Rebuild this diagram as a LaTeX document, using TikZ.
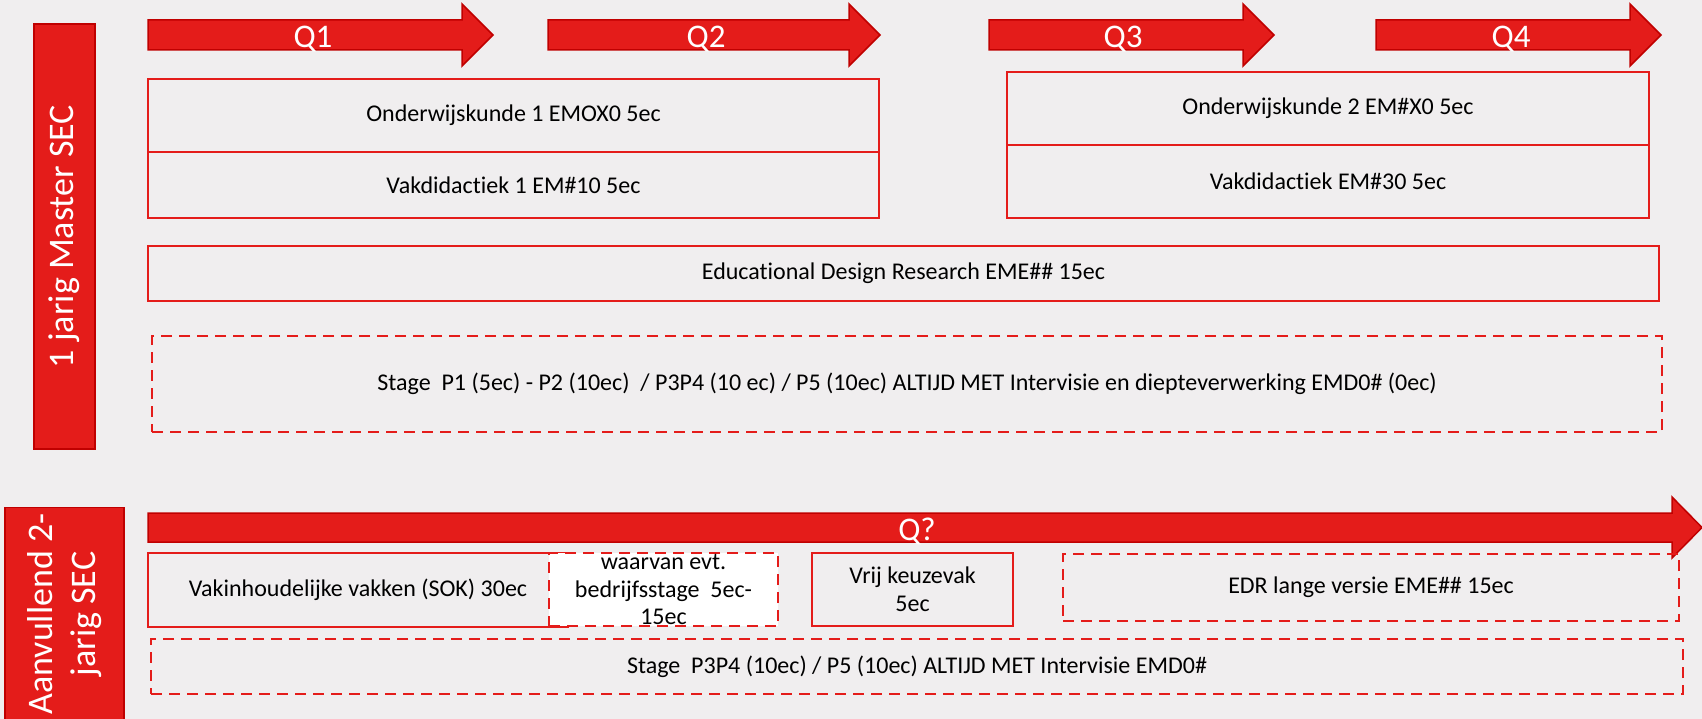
\documentclass[tikz,border=0pt]{standalone}
\usepackage{fontspec}
\setmainfont[Ligatures={NoCommon}]{Carlito}
\definecolor{sred}{RGB}{228,28,26}
\definecolor{dred}{RGB}{192,0,0}
\definecolor{bgrey}{RGB}{240,238,239}
\tikzset{
  yearbar/.style={fill=sred, draw=dred, line width=1.5pt, text=white,
    align=center, font=\fontsize{36}{43}\selectfont, inner sep=0pt},
  qarrow/.style={fill=sred, draw=dred, line width=1.5pt},
  qlabel/.style={text=white, font=\fontsize{33}{40}\selectfont, inner sep=0pt},
  course/.style={draw=sred, line width=2.5pt, align=center,
    font=\fontsize{24}{27.6}\selectfont, inner sep=0pt},
  optional/.style={course, dash pattern=on 11pt off 7pt},
}

\begin{document}
\begin{tikzpicture}[x=1pt, y=-1pt]
\fill[bgrey] (0,0) rectangle (1702,719);
\useasboundingbox (0,0) rectangle (1702,719);

% year labels
\node[yearbar, rotate=90, minimum width=425, minimum height=61] (master) at (64.5,236.5) {1 jarig Master SEC};
\node[yearbar, rotate=90, minimum width=213, minimum height=119] (extra) at (64.5,614) {Aanvullend 2-\\jarig SEC};

% quarters
\foreach \xa/\xb/\xm/\q in {148/462/313/Q1, 548/849/706/Q2, 989/1243/1123/Q3, 1376/1630/1511/Q4}{
  \filldraw[qarrow] (\xa,20) -- (\xb,20) -- (\xb,4) -- (\xb+31,35) -- (\xb,66)
    -- (\xb,50) -- (\xa,50) -- cycle;
  \node[qlabel] (\q) at (\xm,39) {\q};
}
\filldraw[qarrow] (148,513) -- (1672,513) -- (1672,497) -- (1702,527.5) -- (1672,558)
  -- (1672,542) -- (148,542) -- cycle;
\node[qlabel] (qx) at (917,531) {Q?};

% first year
\node[course, minimum width=731, minimum height=73] (ond1) at (513.5,115.5) {Onderwijskunde 1 EMOX0 5ec};
\node[course, minimum width=731, minimum height=66] (vak1) at (513.5,185) {Vakdidactiek 1 EM\#10 5ec};
\node[course, minimum width=642, minimum height=73] (ond2) at (1328,108.5) {Onderwijskunde 2 EM\#X0 5ec};
\node[course, minimum width=642, minimum height=73] (vak2) at (1328,181.5) {Vakdidactiek EM\#30 5ec};
\node[course, minimum width=1511, minimum height=55] (edr) at (903.5,273.5) {Educational Design Research EME\#\# 15ec};
\node[optional, minimum width=1510, minimum height=96] (stage1) at (907,384)
  {Stage\ \ P1 (5ec) - P2 (10ec)\ \ / P3P4 (10 ec) / P5 (10ec) ALTIJD MET Intervisie en diepteverwerking EMD0\# (0ec)};

% second year
\node[course, minimum width=420, minimum height=74] (vakinh) at (358,590) {Vakinhoudelijke vakken (SOK) 30ec};
\node[optional, fill=white, minimum width=229, minimum height=73] (waar) at (663.5,589.5) {};
\node[font=\fontsize{24}{27.6}\selectfont, align=center, inner sep=0pt] (waartxt) at (waar) {waarvan evt.\\bedrijfsstage\ \ 5ec-\\15ec};
\node[course, minimum width=201, minimum height=73] (vrij) at (912.5,589.5) {Vrij keuzevak\\5ec};
\node[optional, minimum width=616, minimum height=67] (edrl) at (1371,587.5) {EDR lange versie EME\#\# 15ec};
\node[optional, minimum width=1532, minimum height=55] (stage2) at (917,666.5) {Stage\ \ P3P4 (10ec) / P5 (10ec) ALTIJD MET Intervisie EMD0\#};
\end{tikzpicture}
\end{document}
